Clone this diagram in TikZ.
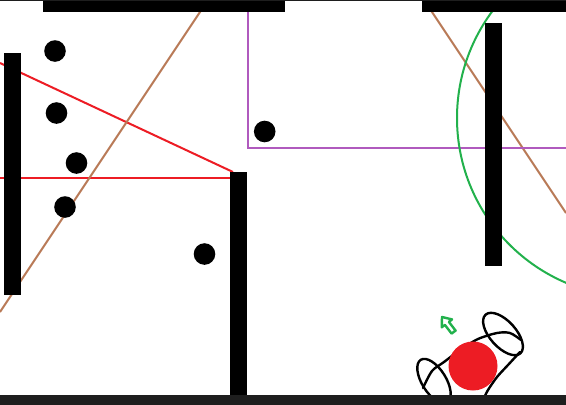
\documentclass[tikz,border=0pt]{standalone}
\definecolor{pbrown}{RGB}{185,122,87}
\definecolor{pred}{RGB}{237,28,36}
\definecolor{ppurple}{RGB}{176,90,190}
\definecolor{pgreen}{RGB}{34,177,76}
\definecolor{pdark}{RGB}{30,30,30}
\begin{document}
\begin{tikzpicture}[x=1pt,y=-1pt,
  bar/.style={fill=black},
  dot/.style={circle,fill=black,minimum size=21.6pt,inner sep=0pt,draw=none},
  redline/.style={draw=pred,line width=2pt},
  brownline/.style={draw=pbrown,line width=2pt},
  purpleline/.style={draw=ppurple,line width=2pt},
  greenline/.style={draw=pgreen,line width=2pt},
  coil/.style={draw=black,line width=2.4pt,line cap=round,line join=round},
  ball/.style={fill=pred},
  arrowshape/.style={draw=pgreen,line width=2.4pt,line join=round}]
\useasboundingbox (0,0) rectangle (566,405);
\fill[white] (0,0) rectangle (566,405);
\begin{scope}
\clip (0,0) rectangle (566,405);
% lines
\draw[redline] (0,63) -- (233,172);
\draw[redline] (0,177.7) -- (235,177.7);
\draw[brownline] (204,6) -- (0,312);
\draw[brownline] (428,6) -- (566,213);
\draw[purpleline] (248,8) -- (248,147.7) -- (570,147.7);
\draw[greenline] (636,118) circle [radius=179pt];
\end{scope}
% dots
\node[dot] (d1) at (55,51) {};
\node[dot] (d2) at (56.5,113) {};
\node[dot] (d3) at (76.5,163) {};
\node[dot] (d4) at (65,207) {};
\node[dot] (d5) at (204.5,254) {};
\node[dot] (d6) at (264.7,131.5) {};
% bars
\fill[bar] (43,0) rectangle (285,12);
\fill[bar] (422,0) rectangle (566,12);
\fill[bar] (4,53) rectangle (21,295);
\fill[bar] (230,172) rectangle (247,396);
\fill[bar] (485,23) rectangle (502,266);
% coil
\draw[coil,shift={(434,381)},rotate=-58] (0,0) ellipse [x radius=25pt,y radius=12pt];
\draw[coil,shift={(503,334)},rotate=-48] (0,0) ellipse [x radius=26pt,y radius=13pt];
\draw[coil] plot[smooth] coordinates {(423,388) (432,371) (444,362) (460,350) (478,339) (497,333) (510,333) (521,340)};
\draw[coil] plot[smooth] coordinates {(520,352) (508,365) (497,377) (488,390) (484,398)};
% ball
\fill[ball] (473,366) circle [radius=24.5pt];
% green arrow
\draw[arrowshape] (442,317) -- (452.0,319.4) -- (448.9,321.9) -- (455.6,330.6) -- (451.6,333.6) -- (444.9,324.9) -- (441.7,327.3) -- cycle;
% frame strips
\fill[pdark] (0,0) rectangle (566,1);
\fill[pdark] (0,395) rectangle (566,405);
\end{tikzpicture}
\end{document}
